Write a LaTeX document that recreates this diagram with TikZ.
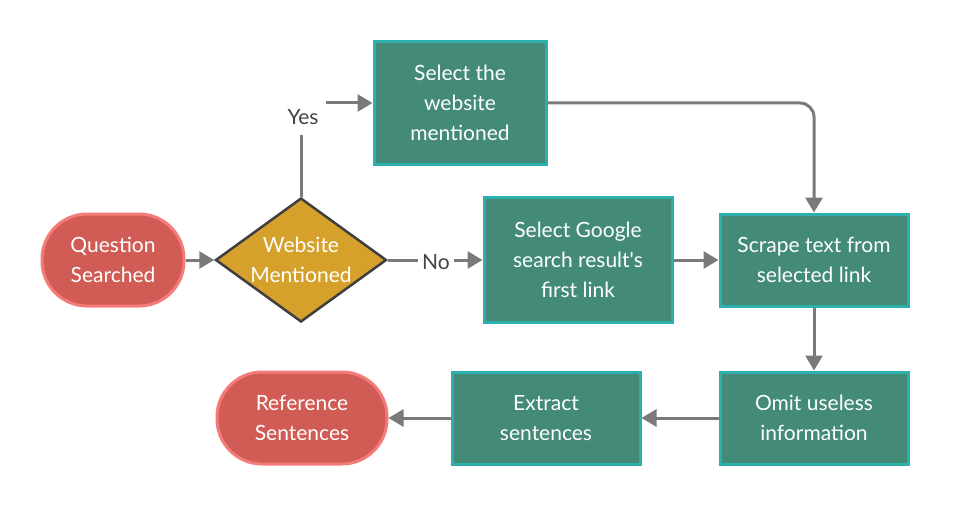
\documentclass[tikz,border=0pt]{standalone}
\usepackage{fontspec}
\setmainfont{Lato}
\newfontfamily\latoraw{Lato}
\usetikzlibrary{arrows.meta,shapes.geometric}
\definecolor{redfill}{HTML}{D05C55}
\definecolor{redline}{HTML}{F47B7A}
\definecolor{boxfill}{HTML}{438B77}
\definecolor{boxline}{HTML}{2BB0AD}
\definecolor{diafill}{HTML}{D6A12A}
\definecolor{dialine}{HTML}{3F3F3F}
\definecolor{conn}{HTML}{7A7A7A}
\definecolor{labtext}{HTML}{444444}
\begin{document}
\begin{tikzpicture}[x=1pt,y=-1pt,
  every node/.style={font=\fontsize{21pt}{30pt}\selectfont, align=center, text=white},
  stepbox/.style={rectangle, fill=boxfill, draw=boxline, line width=3pt, minimum width=188pt, minimum height=92pt, inner sep=0pt},
  termbox/.style={rectangle, rounded corners=45pt, fill=redfill, draw=redline, line width=3pt, minimum width=142pt, minimum height=92pt, inner sep=0pt},
  decbox/.style={diamond, aspect=1.37, fill=diafill, draw=dialine, line width=2.5pt, minimum width=171pt, minimum height=124pt, inner sep=0pt},
  conline/.style={draw=conn, line width=3pt, -{Triangle[length=15pt,width=17pt]}},
  lab/.style={fill=white, text=labtext, inner sep=0pt}
]
\useasboundingbox (0,0) rectangle (972,516);
\node[termbox] (qs) at (113,260) {Question\\Searched};
\node[decbox] (wm) at (301,260) {Website\\Mentioned};
\node[stepbox, minimum width=172pt, minimum height=123pt] (sw) at (460,103) {Select the\\website\\mentioned};
\node[stepbox, minimum height=125pt] (sg) at (578,260) {Select Google\\{\latoraw search result's}\\first link};
\node[stepbox] (sc) at (814,260) {Scrape text from\\selected link};
\node[stepbox] (om) at (814,418) {Omit useless\\information};
\node[stepbox] (ex) at (546,418) {Extract\\sentences};
\node[termbox, minimum width=170pt] (rs) at (302,418) {Reference\\Sentences};

\draw[conline] (qs) -- (wm);
\draw[conline] (wm.north) -- (wm.north |- sw.west) -- (sw.west);
\node[lab, minimum width=46pt, minimum height=36pt] (yes) at (303,117) {Yes};
\draw[conline] (wm.east) -- (sg.west);
\node[lab, minimum width=36pt, minimum height=24pt] (no) at (436,262) {No};
\draw[conline] (sg) -- (sc);
\draw[conline, rounded corners=14pt] (sw.east) -- (sc.north |- sw.east) -- (sc.north);
\draw[conline] (sc) -- (om);
\draw[conline] (om) -- (ex);
\draw[conline] (ex) -- (rs);
\end{tikzpicture}
\end{document}
